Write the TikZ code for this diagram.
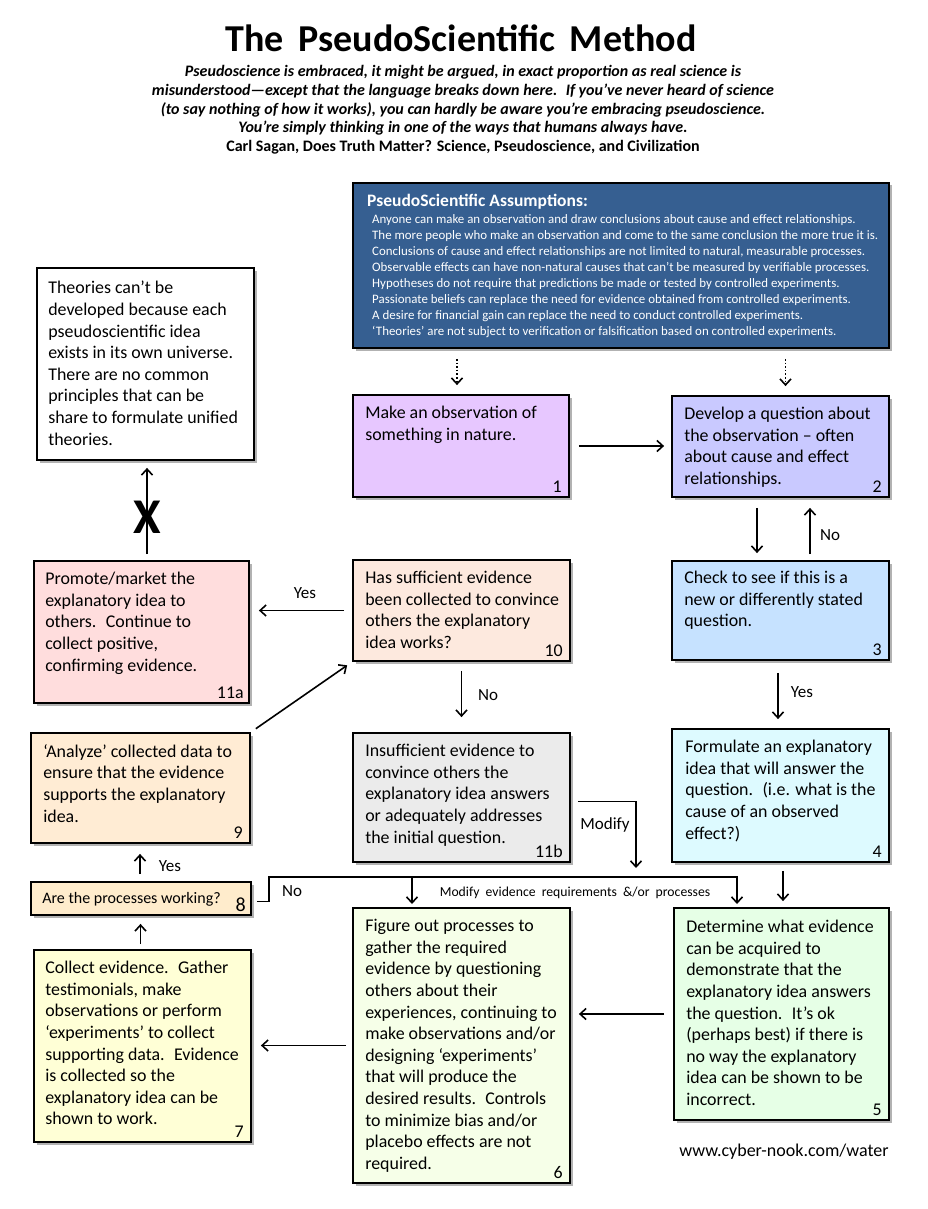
\documentclass[tikz,border=0pt]{standalone}
\usepackage{fontspec}
\setmainfont{Carlito}
\usetikzlibrary{arrows.meta,fit,calc,shadows}
\definecolor{cA}{RGB}{54,95,145}
\definecolor{c1}{RGB}{231,199,255}
\definecolor{c2}{RGB}{201,201,255}
\definecolor{c3}{RGB}{198,226,255}
\definecolor{c4}{RGB}{221,250,255}
\definecolor{c5}{RGB}{230,255,230}
\definecolor{c6}{RGB}{246,255,232}
\definecolor{c7}{RGB}{255,255,214}
\definecolor{c8}{RGB}{255,236,204}
\definecolor{c9}{RGB}{255,236,212}
\definecolor{c10}{RGB}{253,233,222}
\definecolor{c11a}{RGB}{255,221,221}
\definecolor{c11b}{RGB}{235,235,235}
\begin{document}
\begin{tikzpicture}[x=1pt,y=-1pt,
  bx/.style={draw=black, line width=1.8pt, inner sep=0pt,
    drop shadow={shadow xshift=2.5pt, shadow yshift=-2.5pt, opacity=0.3, fill=black}},
  tx/.style={anchor=north west, inner sep=0pt, align=left, font=\fontsize{17.9}{21.6}\selectfont},
  num/.style={anchor=base east, inner sep=0pt, font=\fontsize{17.9}{20}\selectfont},
  arr/.style={line width=1.6pt, -{Straight Barb[length=6pt,width=11pt,line width=1.6pt]}},
  darr/.style={line width=1.6pt, dotted, -{Straight Barb[length=6pt,width=11pt,line width=1.6pt,line cap=butt]}},
  lbl/.style={inner sep=0pt, font=\fontsize{17}{20}\selectfont},
]
\fill[white] (0,0) rectangle (927,1209);
\useasboundingbox (0,0) rectangle (927,1209);

% title and quote
\node[anchor=base, inner sep=0pt, font=\bfseries\fontsize{38}{40}\selectfont] (title) at (461,52) {The\hspace{6pt} PseudoScientific\hspace{6pt} Method};
\node[anchor=north, inner sep=0pt, align=center, font=\bfseries\itshape\fontsize{16}{18.8}\selectfont] (quote) at (463,65)
{Pseudoscience is embraced, it might be argued, in exact proportion as real science is\\
misunderstood—except that the language breaks down here.~ If you've never heard of science\\
(to say nothing of how it works), you can hardly be aware you're embracing pseudoscience.\\
You're simply thinking in one of the ways that humans always have.\\
{\upshape Carl Sagan, Does Truth Matter? Science, Pseudoscience, and Civilization}};

% assumptions
\node[bx, fill=cA, fit={(353,183) (889,348)}] (A) {};
\node[anchor=north west, inner sep=0pt, text=white, font=\bfseries\fontsize{17.5}{20}\selectfont] (At) at (367,194) {PseudoScientific Assumptions:};
\node[anchor=north west, inner sep=0pt, align=left, text=white, font=\fontsize{12.9}{16}\selectfont] (Al) at (372,214)
{Anyone can make an observation and draw conclusions about cause and effect relationships.\\
The more people who make an observation and come to the same conclusion the more true it is.\\
Conclusions of cause and effect relationships are not limited to natural, measurable processes.\\
Observable effects can have non-natural causes that can’t be measured by verifiable processes.\\
Hypotheses do not require that predictions be made or tested by controlled experiments.\\
Passionate beliefs can replace the need for evidence obtained from controlled experiments.\\
A desire for financial gain can replace the need to conduct controlled experiments.\\
‘Theories’ are not subject to verification or falsification based on controlled experiments.};

% boxes
\node[bx, fill=white, fit={(37,268) (254,460)}] (T) {};
\node[bx, fill=c1, fit={(353,395) (569,497)}] (b1) {};
\node[bx, fill=c2, fit={(672,396) (889,497)}] (b2) {};
\node[bx, fill=c3, fit={(672,561) (889,660)}] (b3) {};
\node[bx, fill=c4, fit={(672,729) (889,862)}] (b4) {};
\node[bx, fill=c5, fit={(674,908) (889,1120)}] (b5) {};
\node[bx, fill=c6, fit={(353,908) (570,1183)}] (b6) {};
\node[bx, fill=c7, fit={(34,950) (251,1142)}] (b7) {};
\node[bx, fill=c8, fit={(31,882) (251,915)}] (b8) {};
\node[bx, fill=c9, fit={(31,733) (250,843)}] (b9) {};
\node[bx, fill=c10, fit={(353,560) (570,661)}] (b10) {};
\node[bx, fill=c11a, fit={(34,561) (249,703)}] (b11a) {};
\node[bx, fill=c11b, fit={(353,733) (570,862)}] (b11b) {};

% texts
\node[tx] (tT) at ($(T.north west)+(12,14)$) {Theories can’t be\\developed because each\\pseudoscientific idea\\exists in its own universe.\\There are no common\\principles that can be\\share to formulate unified\\theories.};
\node[tx] (t1) at ($(b1.north west)+(13,12)$) {Make an observation of\\something in nature.};
\node[tx] (t2) at ($(b2.north west)+(13,12)$) {Develop a question about\\the observation – often\\about cause and effect\\relationships.};
\node[tx] (t3) at ($(b3.north west)+(13,11)$) {Check to see if this is a\\new or differently stated\\question.};
\node[tx] (t4) at ($(b4.north west)+(14,12)$) {Formulate an explanatory\\idea that will answer the\\question.~ (i.e. what is the\\cause of an observed\\effect?)};
\node[tx] (t5) at ($(b5.north west)+(13,13)$) {Determine what evidence\\can be acquired to\\demonstrate that the\\explanatory idea answers\\the question.~ It’s ok\\(perhaps best) if there is\\no way the explanatory\\idea can be shown to be\\incorrect.};
\node[tx] (t6) at ($(b6.north west)+(13,12)$) {Figure out processes to\\gather the required\\evidence by questioning\\others about their\\experiences, continuing to\\make observations and/or\\designing ‘experiments’\\that will produce the\\desired results.~ Controls\\to minimize bias and/or\\placebo effects are not\\required.};
\node[tx] (t7) at ($(b7.north west)+(12,12)$) {Collect evidence.~ Gather\\testimonials, make\\observations or perform\\‘experiments’ to collect\\supporting data.~ Evidence\\is collected so the\\explanatory idea can be\\shown to work.};
\node[anchor=west, inner sep=0pt, font=\fontsize{16}{18}\selectfont] (t8) at ($(b8.west)+(12,1)$) {Are the processes working?};
\node[tx] (t9) at ($(b9.north west)+(13,12)$) {‘Analyze’ collected data to\\ensure that the evidence\\supports the explanatory\\idea.};
\node[tx] (t10) at ($(b10.north west)+(13,12)$) {Has sufficient evidence\\been collected to convince\\others the explanatory\\idea works?};
\node[tx] (t11a) at ($(b11a.north west)+(12,12)$) {Promote/market the\\explanatory idea to\\others.~ Continue to\\collect positive,\\confirming evidence.};
\node[tx] (t11b) at ($(b11b.north west)+(13,12)$) {Insufficient evidence to\\convince others the\\explanatory idea answers\\or adequately addresses\\the initial question.};

% numbers
\node[num] (n1) at ($(b1.south east)+(-8,-5)$) {1};
\node[num] (n2) at ($(b2.south east)+(-8,-5)$) {2};
\node[num] (n3) at ($(b3.south east)+(-8,-5)$) {3};
\node[num] (n4) at ($(b4.south east)+(-8,-5)$) {4};
\node[num] (n5) at ($(b5.south east)+(-8,-5)$) {5};
\node[num] (n6) at ($(b6.south east)+(-8,-5)$) {6};
\node[num] (n7) at ($(b7.south east)+(-8,-5)$) {7};
\node[num, font=\fontsize{20}{20}\selectfont] (n8) at ($(b8.south east)+(-6,-4)$) {8};
\node[num] (n9) at ($(b9.south east)+(-8,-5)$) {9};
\node[num] (n10) at ($(b10.south east)+(-8,-5)$) {10};
\node[num] (n11a) at ($(b11a.south east)+(-6,-5)$) {11a};
\node[num] (n11b) at ($(b11b.south east)+(-8,-5)$) {11b};

% connectors
\draw[darr, shorten <=10pt, shorten >=9pt] ([xshift=-4pt]b1.north |- A.south) -- ([xshift=-4pt]b1.north);
\draw[darr, shorten <=10pt, shorten >=9pt] ([xshift=5pt]b2.north |- A.south) -- ([xshift=5pt]b2.north);
\draw[arr, shorten <=9pt, shorten >=7pt] (b1.east) -- (b1.east -| b2.west);
\draw[arr, shorten <=10pt, shorten >=7pt] ([xshift=-23.5pt]b2.south) -- ([xshift=-23.5pt]b2.south |- b3.north);
\draw[arr, shorten <=6pt, shorten >=10pt] ([xshift=29.5pt]b3.north) -- ([xshift=29.5pt]b3.north |- b2.south);
\node[lbl, anchor=west] (lno1) at (820,535) {No};
\draw[arr, shorten <=12pt, shorten >=9pt] ([xshift=-2.5pt]b3.south) -- ([xshift=-2.5pt]b3.south |- b4.north);
\node[lbl] (lyes1) at (802,692) {Yes};
\draw[arr, shorten <=8pt, shorten >=6pt] ([xshift=2.5pt]b4.south) -- ([xshift=2.5pt]b4.south |- b5.north);
\draw[arr, shorten <=9pt, shorten >=8pt] (b5.west) -- (b5.west -| b6.east);
\draw[arr, shorten <=6pt, shorten >=9pt] (b6.west) -- (b6.west -| b7.east);
\draw[arr, shorten <=5pt, shorten >=8pt] ([xshift=-2pt]b7.north) -- ([xshift=-2pt]b7.north |- b8.south);
\draw[arr, shorten <=7pt, shorten >=10pt] ([xshift=-1pt]b8.north) -- ([xshift=-1pt]b8.north |- b9.south);
\node[lbl] (lyes2) at (170,866) {Yes};
\draw[arr, shorten <=6pt, shorten >=6pt] (b9.north east) -- (b10.south west);
\draw[arr, shorten <=8pt, shorten >=9pt] (b10.west) -- (b10.west -| b11a.east);
\node[lbl] (lyes3) at (305,593) {Yes};
\draw[arr, shorten <=6pt, shorten >=7pt] ([xshift=1.5pt]T.south |- b11a.north) -- ([xshift=1.5pt]T.south);
\node[inner sep=0pt, font=\bfseries\fontsize{50}{50}\selectfont] (X) at (147,517) {X};
\draw[arr, shorten <=9pt, shorten >=15pt] (b10.south) -- (b10.south |- b11b.north);
\node[lbl] (lno2) at (488,695) {No};
\coordinate (m1) at (636,868);
\draw[arr, shorten <=7pt] ([yshift=-4pt]b11b.east) -| (m1);
\node[lbl] (lmod) at (605,825) {Modify};
\coordinate (e1) at (737,904);
\coordinate (e2) at (412,904);
\coordinate (bus) at (269,877);
\draw[arr, shorten <=5pt] ([yshift=-3pt]b8.east) -| (bus) -| (e1);
\draw[arr] (bus -| e2) -- (e2);
\node[lbl] (lno3) at (292,891) {No};
\node[inner sep=0pt, font=\fontsize{13.7}{15}\selectfont] (lmev) at (575,893) {Modify\ \ evidence\ \ requirements\ \ \&/or\ \ processes};
\node[inner sep=0pt, font=\fontsize{18}{20}\selectfont] (url) at (784,1152) {www.cyber-nook.com/water};
\end{tikzpicture}
\end{document}
